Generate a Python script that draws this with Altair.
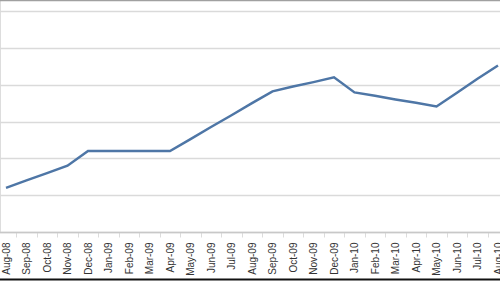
import altair as alt
import pandas as pd

months = ["Aug-08", "Sep-08", "Oct-08", "Nov-08", "Dec-08", "Jan-09", "Feb-09", "Mar-09",
          "Apr-09", "May-09", "Jun-09", "Jul-09", "Aug-09", "Sep-09", "Oct-09", "Nov-09",
          "Dec-09", "Jan-10", "Feb-10", "Mar-10", "Apr-10", "May-10", "Jun-10", "Jul-10", "Aug-10"]
values = [1.20, 1.40, 1.60, 1.80, 2.20, 2.20, 2.20, 2.20,
          2.20, 2.52, 2.85, 3.17, 3.50, 3.82, 3.95, 4.07,
          4.20, 3.79, 3.70, 3.60, 3.51, 3.41, 3.78, 4.16, 4.52]

df = pd.DataFrame({"month": months, "value": values})

line = alt.Chart(df).mark_line(color="#4E76A6", strokeWidth=2.5).encode(
    x=alt.X("month:O", sort=months, bandPosition=0.5,
            scale=alt.Scale(type="band", range=[-4.25, 508.25], paddingInner=0, paddingOuter=0),
            axis=alt.Axis(title=None, labelAngle=-90, labelFont="Liberation Sans", labelFontSize=10,
                          labelColor="#333333", labelPadding=5, labelOverlap=False,
                          tickBand="extent", tickColor="#dcdcdc", tickSize=5, tickWidth=1,
                          domainColor="#c8c8c8", domainWidth=1.5, grid=False)),
    y=alt.Y("value:Q", scale=alt.Scale(domain=[0, 6.3], nice=False, zero=True),
            axis=alt.Axis(title=None, labels=False, ticks=False, domain=False, grid=True,
                          gridColor="#dadada", gridWidth=1.5, values=[0, 1, 2, 3, 4, 5, 6])),
)

blank = alt.Data(values=[{}])
top_rule = alt.Chart(blank).mark_rule(color="#a0a0a0", strokeWidth=1.5).encode(y=alt.value(0.5))
bottom_rule = alt.Chart(blank).mark_rule(color="#111111", strokeWidth=2).encode(y=alt.value(279.5))

chart = alt.layer(line, top_rule, bottom_rule).properties(
    width=500, height=232,
    autosize=alt.AutoSizeParams(type="none"),
    padding={"left": 0, "top": 0, "right": 0, "bottom": 49},
).configure_view(stroke=None).configure(background="white")

chart.save("out.html", embed_options={"renderer": "svg", "actions": False})
